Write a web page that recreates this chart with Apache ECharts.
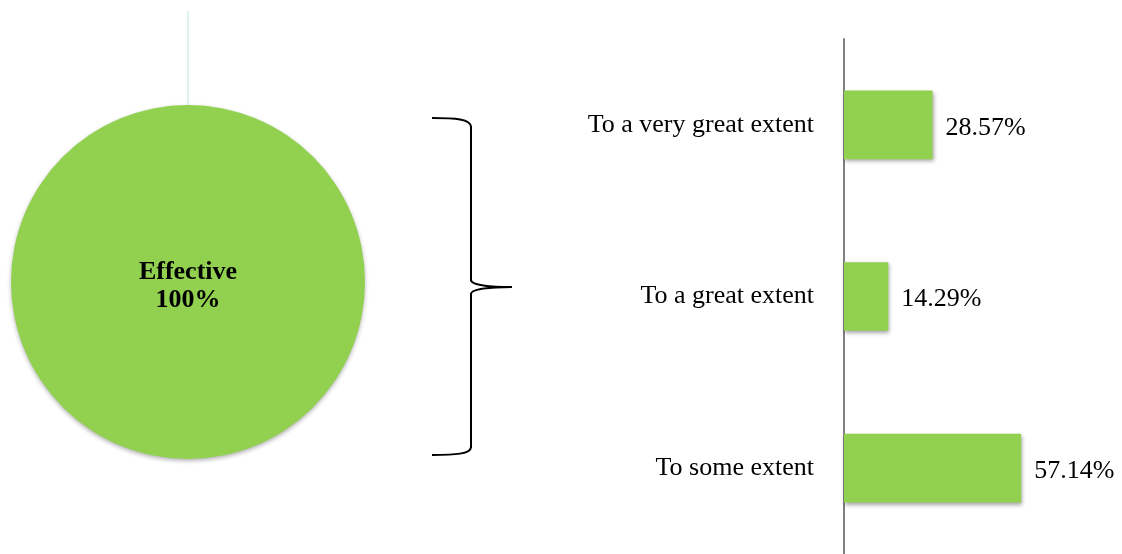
<!DOCTYPE html>
<html>
<head>
<meta charset="utf-8">
<style>
  html, body { margin: 0; padding: 0; background: #fff; }
  #chart { width: 1122px; height: 554px; }
</style>
<script src="https://cdn.jsdelivr.net/npm/echarts@6/dist/echarts.min.js"></script>
</head>
<body>
<div id="chart"></div>
<script>
var pieNames = ['Effective'];
var pieValues = [100];

var categories = ['To a very great extent', 'To a great extent', 'To some extent'];
var values = [28.57, 14.29, 57.14];

var green = '#92D050';
var font = '"Liberation Serif", "Times New Roman", serif';

var chart = echarts.init(document.getElementById('chart'));

var pieData = pieNames.map(function (n, i) {
    return {name: n, value: pieValues[i]};
});

var braceStyle = {fill: 'none', stroke: '#000', lineWidth: 2};

function curve(x1, y1, c1x, c1y, c2x, c2y, x2, y2) {
    return {
        type: 'bezierCurve',
        shape: {x1: x1, y1: y1, cpx1: c1x, cpy1: c1y, cpx2: c2x, cpy2: c2y, x2: x2, y2: y2},
        style: braceStyle
    };
}

function line(x1, y1, x2, y2, style) {
    return {
        type: 'line',
        shape: {x1: x1, y1: y1, x2: x2, y2: y2},
        style: style || braceStyle
    };
}

var option = {
    animation: false,
    backgroundColor: '#fff',
    grid: {
        left: 844,
        right: 30,
        top: 39,
        bottom: 0
    },
    xAxis: {
        type: 'value',
        min: 0,
        max: 80,
        show: false
    },
    yAxis: {
        type: 'category',
        data: categories,
        inverse: true,
        axisLine: {show: true, lineStyle: {color: '#808080', width: 2}},
        axisTick: {show: false},
        axisLabel: {
            margin: 30,
            color: '#000',
            fontFamily: font,
            fontSize: 26,
            padding: [4, 0, 0, 0]
        }
    },
    graphic: [
        // thin leader line above the pie
        line(188, 11, 188, 106, {stroke: '#dff3ea', lineWidth: 2}),
        // curly brace between pie and bars
        curve(432, 118, 455, 118, 471, 119, 471, 127),
        line(471, 126, 471, 281),
        curve(471, 280, 471, 285, 490, 287, 512, 287),
        curve(512, 287, 490, 287, 471, 289, 471, 294),
        line(471, 293, 471, 448),
        curve(471, 447, 471, 454, 455, 455, 432, 455)
    ],
    series: [
        {
            type: 'pie',
            center: [188, 282],
            radius: 177,
            silent: true,
            startAngle: 90,
            data: pieData,
            itemStyle: {
                color: green,
                shadowBlur: 4,
                shadowOffsetY: 2,
                shadowColor: 'rgba(0,0,0,0.3)'
            },
            label: {
                position: 'center',
                formatter: function (p) {
                    return p.name + '\n' + p.value + '%';
                },
                offset: [0, 4],
                color: '#000',
                fontFamily: font,
                fontWeight: 'bold',
                fontSize: 26,
                lineHeight: 28
            },
            labelLine: {show: false}
        },
        {
            type: 'bar',
            data: values,
            barCategoryGap: '60%',
            itemStyle: {
                color: green,
                shadowBlur: 4,
                shadowOffsetX: 1,
                shadowOffsetY: 2,
                shadowColor: 'rgba(0,0,0,0.35)'
            },
            label: {
                show: true,
                position: 'right',
                distance: 13,
                offset: [0, 3],
                color: '#000',
                fontFamily: font,
                fontSize: 26,
                formatter: function (p) {
                    return p.value.toFixed(2) + '%';
                }
            }
        }
    ]
};

chart.setOption(option);
</script>
</body>
</html>
